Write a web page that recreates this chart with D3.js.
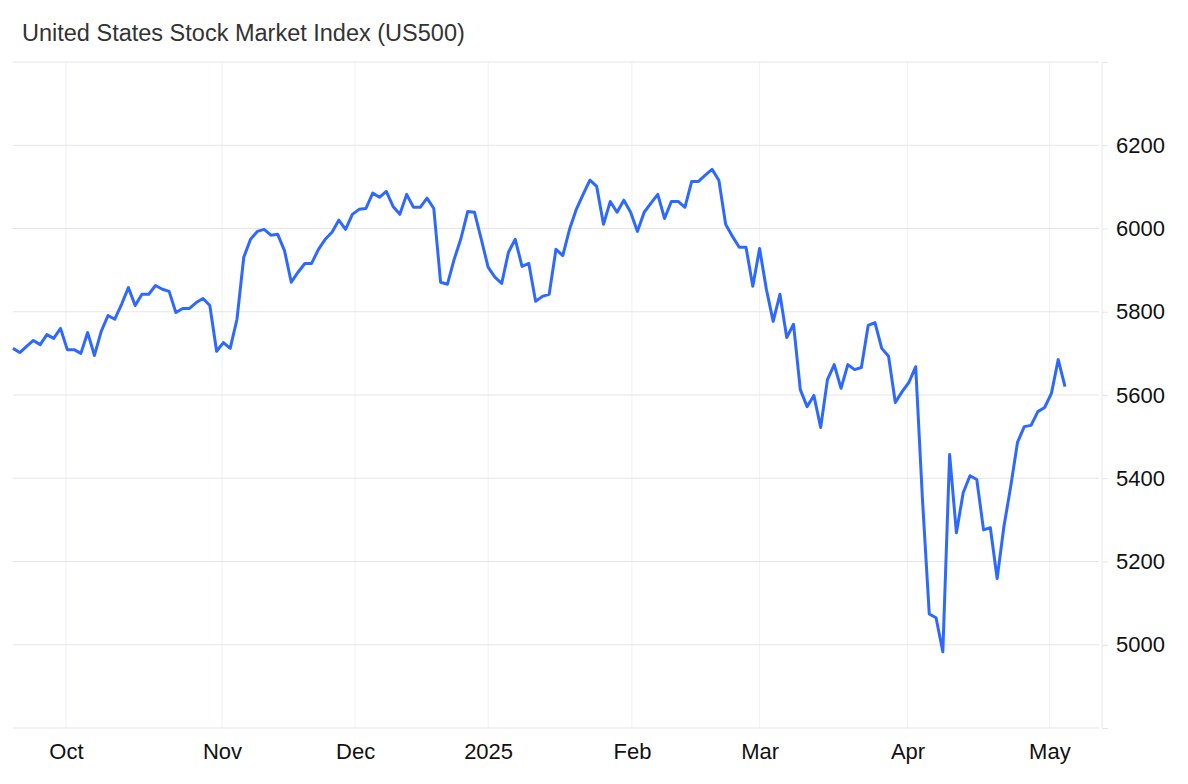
<!DOCTYPE html>
<html>
<head>
<meta charset="utf-8">
<script src="https://cdn.jsdelivr.net/npm/d3@7"></script>
<style>
  body { margin: 0; background: #fff; font-family: "Liberation Sans", Arial, sans-serif; }
</style>
</head>
<body>
<svg id="chart" width="1188" height="784"></svg>
<script>
"use strict"

const title = "United States Stock Market Index (US500)"

// daily closes (trading-day order)
const values = [
    5712, 5702, 5717, 5731, 5721, 5745, 5736, 5760, 5709, 5709,
    5700, 5750, 5695, 5753, 5791, 5782, 5818, 5858, 5815, 5842,
    5842, 5863, 5854, 5849, 5798, 5808, 5808, 5822, 5832, 5815,
    5705, 5726, 5712, 5782, 5931, 5974, 5993, 5998, 5984, 5986,
    5947, 5871, 5895, 5916, 5916, 5950, 5974, 5991, 6020, 5998,
    6034, 6046, 6048, 6085, 6075, 6089, 6053, 6034, 6082, 6051,
    6051, 6073, 6048, 5871, 5866, 5926, 5976, 6041, 6039, 5974,
    5907, 5883, 5868, 5943, 5974, 5909, 5916, 5825, 5837, 5842,
    5950, 5935, 5998, 6046, 6082, 6116, 6101, 6010, 6065, 6039,
    6068, 6039, 5993, 6039, 6061, 6082, 6024, 6065, 6065, 6051,
    6113, 6113, 6128, 6142, 6116, 6010, 5981, 5955, 5955, 5861,
    5952, 5854, 5777, 5842, 5738, 5770, 5613, 5572, 5599, 5522,
    5637, 5673, 5616, 5673, 5661, 5666, 5767, 5774, 5712, 5693,
    5582, 5608, 5630, 5668, 5349, 5074, 5065, 4983, 5457, 5269,
    5365, 5406, 5397, 5276, 5281, 5159, 5284, 5380, 5486, 5524,
    5527, 5560, 5570, 5604, 5685, 5620
]

const monthLabels = ["Oct", "Nov", "Dec", "2025", "Feb", "Mar", "Apr", "May"]
const monthIndex = [7.8, 30.8, 50.4, 70.0, 91.2, 110.0, 131.8, 152.7]
const yTicks = [5000, 5200, 5400, 5600, 5800, 6000, 6200]
const yGrid = [4800, 5000, 5200, 5400, 5600, 5800, 6000, 6200, 6400]

const margin = {left: 13, right: 1099, top: 62, bottom: 728}
const svg = d3.select("#chart")

const x = d3.scaleLinear().domain([0, values.length - 1]).range([margin.left, 1065])
const y = d3.scaleLinear().domain([4800, 6400]).range([margin.bottom, margin.top])

svg.append("text")
    .attr("x", 22).attr("y", 41)
    .style("font-size", "23.5px").style("fill", "#333")
    .text(title)

// vertical month grid
svg.append("g").selectAll("line")
    .data(monthIndex)
    .enter().append("line")
    .attr("x1", d => x(d)).attr("x2", d => x(d))
    .attr("y1", margin.top).attr("y2", margin.bottom)
    .style("stroke", "#edf2f7").style("stroke-width", 1)

// horizontal grid
svg.append("g").selectAll("line")
    .data(yGrid)
    .enter().append("line")
    .attr("x1", margin.left).attr("x2", margin.right)
    .attr("y1", d => y(d)).attr("y2", d => y(d))
    .style("stroke", "#e6e6e6").style("stroke-width", 1.2)

const yAxis = d3.axisRight(y).tickValues(yGrid).tickSize(6).tickPadding(8)
    .tickFormat(d => yTicks.includes(d) ? d : "")
const gy = svg.append("g")
    .attr("transform", "translate(" + 1102 + ",0)")
    .call(yAxis)
gy.select(".domain").attr("d", "M0," + margin.top + "V" + margin.bottom).style("stroke", "#e6e6e6")
gy.selectAll(".tick line").style("stroke", "#e6e6e6")
gy.selectAll(".tick text").style("font-size", "22px").style("fill", "#111")
    .style("font-family", "Liberation Sans, Arial, sans-serif")

const xAxis = d3.axisBottom(x).tickValues(monthIndex).tickSize(0).tickPadding(15)
    .tickFormat((d, i) => monthLabels[i])
const gx = svg.append("g")
    .attr("transform", "translate(0," + margin.bottom + ")")
    .call(xAxis)
gx.select(".domain").remove()
gx.selectAll(".tick text").style("font-size", "22px").style("fill", "#111")
    .style("font-family", "Liberation Sans, Arial, sans-serif")

const line = d3.line()
    .x((d, i) => x(i))
    .y(d => y(d))

svg.append("path")
    .datum(values)
    .attr("d", line)
    .style("fill", "none")
    .style("stroke", "#2e69ff")
    .style("stroke-width", 3)
    .style("stroke-linejoin", "round")
</script>
</body>
</html>
